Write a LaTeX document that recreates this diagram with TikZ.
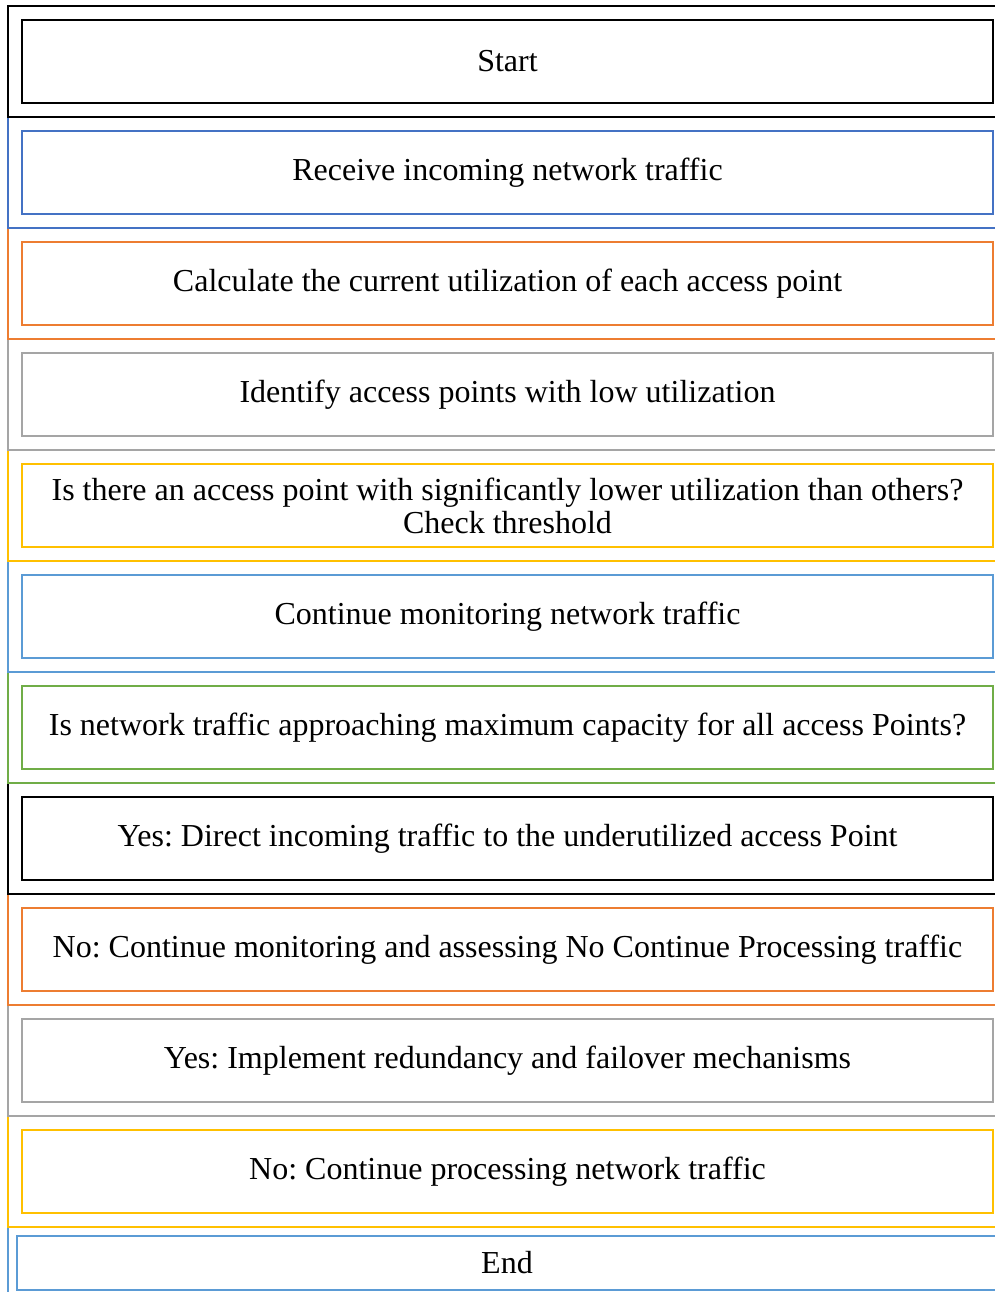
\documentclass[tikz,border=0pt]{standalone}
\usepackage{fontspec}
\setmainfont{Liberation Serif}
\usepackage{tikz}
\definecolor{offblue}{RGB}{68,114,196}
\definecolor{offorange}{RGB}{237,125,49}
\definecolor{offgray}{RGB}{165,165,165}
\definecolor{offgold}{RGB}{255,192,0}
\definecolor{offsky}{RGB}{91,155,213}
\definecolor{offgreen}{RGB}{112,173,71}
\frenchspacing

\begin{document}
\begin{tikzpicture}[x=1pt,y=-1pt,line width=2.8pt]
            \tikzstyle{every node}=[font=\fontsize{32}{33}\selectfont]
            \tikzset{stepbox/.style={draw, align=center, minimum width=971pt, minimum height=83pt, inner sep=0pt}}
            \clip (0,0) rectangle (995,1292);
            % outer frames, drawn from the bottom up
            \draw[offsky] (8,1227) rectangle (1010,1310);
            \draw[offgold] (8,1116) rectangle (1010,1227);
            \draw[offgray] (8,1005) rectangle (1010,1116);
            \draw[offorange] (8,894) rectangle (1010,1005);
            \draw[black] (8,783) rectangle (1010,894);
            \draw[offgreen] (8,672) rectangle (1010,783);
            \draw[offsky] (8,561) rectangle (1010,672);
            \draw[offgold] (8,450) rectangle (1010,561);
            \draw[offgray] (8,339) rectangle (1010,450);
            \draw[offorange] (8,228) rectangle (1010,339);
            \draw[offblue] (8,117) rectangle (1010,228);
            \draw[black] (8,6) rectangle (1010,117);

            \node[stepbox, draw=black] (start) at (507.5, 61.5) {Start};
            \node[stepbox, draw=offblue] (recv) at (507.5, 172.5) {Receive incoming network traffic};
            \node[stepbox, draw=offorange] (calc) at (507.5, 283.5) {Calculate the current utilization of each access point};
            \node[stepbox, draw=offgray] (ident) at (507.5, 394.5) {Identify access points with low utilization};
            \node[stepbox, draw=offgold] (thresh) at (507.5, 505.5) {Is there an access point with significantly lower utilization than others?\\Check threshold};
            \node[stepbox, draw=offsky] (monit) at (507.5, 616.5) {Continue monitoring network traffic};
            \node[stepbox, draw=offgreen] (cap) at (507.5, 727.5) {Is network traffic approaching maximum capacity for all access Points?};
            \node[stepbox, draw=black] (direct) at (507.5, 838.5) {Yes: Direct incoming traffic to the underutilized access Point};
            \node[stepbox, draw=offorange] (assess) at (507.5, 949.5) {No: Continue monitoring and assessing No Continue Processing traffic};
            \node[stepbox, draw=offgray] (redund) at (507.5, 1060.5) {Yes: Implement redundancy and failover mechanisms};
            \node[stepbox, draw=offgold] (proc) at (507.5, 1171.5) {No: Continue processing network traffic};
            \node[stepbox, draw=offsky, minimum width=980pt, minimum height=54pt] (stop) at (507, 1263) {End};
\end{tikzpicture}
\end{document}
